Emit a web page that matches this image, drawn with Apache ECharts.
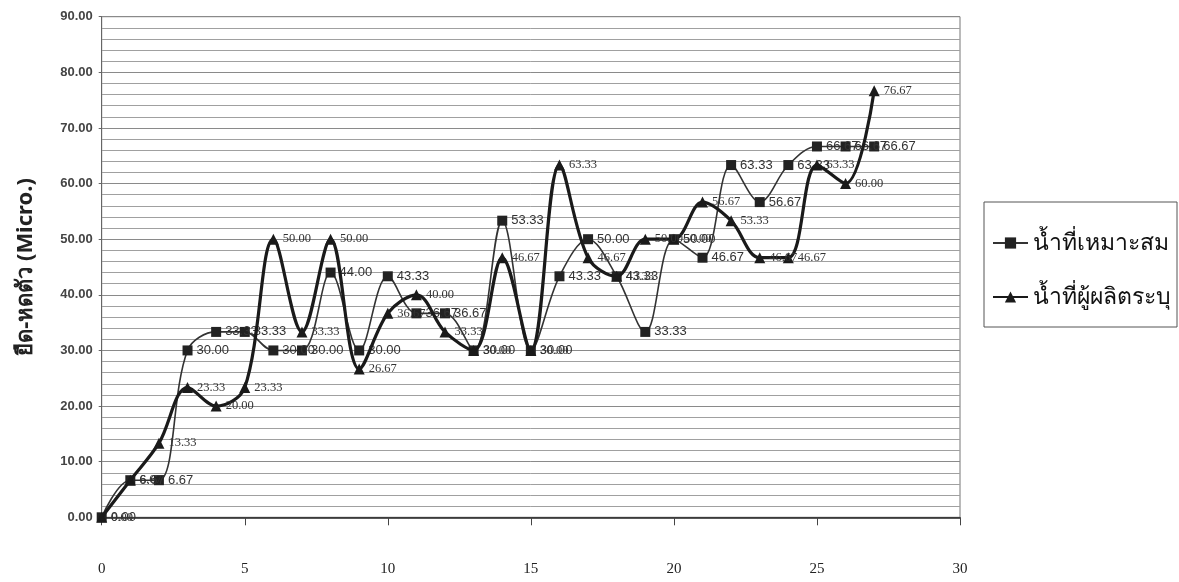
<!DOCTYPE html>
<html>
<head>
<meta charset="utf-8">
<script src="https://cdn.jsdelivr.net/npm/echarts@6/dist/echarts.min.js"></script>
<style>
html,body{margin:0;padding:0;background:#fff;}
#c{width:1179px;height:582px;}
</style>
</head>
<body>
<div id="c"></div>
<script>
const xValues = [0,1,2,3,4,5,6,7,8,9,10,11,12,13,14,15,16,17,18,19,20,21,22,23,24,25,26,27];
const seriesSuitable = [0,6.67,6.67,30,33.33,33.33,30,30,44,30,43.33,36.67,36.67,30,53.33,30,43.33,50,43.33,33.33,50,46.67,63.33,56.67,63.33,66.67,66.67,66.67];
const seriesMaker = [0,6.67,13.33,23.33,20,23.33,50,33.33,50,26.67,36.67,40,33.33,30,46.67,30,63.33,46.67,43.33,50,50,56.67,53.33,46.67,46.67,63.33,60,76.67];
const seriesNames = ['น้ำที่เหมาะสม','น้ำที่ผู้ผลิตระบุ'];
const yTitle = 'ยืด-หดตัว (Micro.)';

const pair = (ys) => xValues.map((x,i)=>[x, ys[i]]);
const chart = echarts.init(document.getElementById('c'), null, {renderer:'canvas'});
chart.setOption({
  backgroundColor:'#fff',
  animation:false,
  grid:{left:101.7, right:219, top:16.7, bottom:64.7, show:true, borderColor:'#777', borderWidth:1, backgroundColor:'transparent'},
  legend:{
    orient:'vertical', left:984, top:202,
    padding:[26,6,15,8], itemGap:24, itemWidth:35, itemHeight:14,
    borderColor:'#555', borderWidth:1,
    textStyle:{fontSize:23, lineHeight:30, color:'#111', fontFamily:'"Noto Sans", "DejaVu Sans", sans-serif'},
    data:seriesNames
  },
  xAxis:{
    type:'value', min:0, max:30, interval:5,
    axisLine:{show:true, onZero:false, lineStyle:{color:'#222', width:1.5}},
    axisTick:{show:true, length:8, lineStyle:{color:'#444'}},
    axisLabel:{margin:44, fontFamily:'"Liberation Serif", serif', fontSize:15, color:'#222'},
    splitLine:{show:false}
  },
  yAxis:{
    type:'value', min:0, max:90, interval:10,
    name:yTitle, nameLocation:'middle', nameGap:65, nameRotate:90,
    nameTextStyle:{fontSize:22, fontWeight:'bold', color:'#222', fontFamily:'"Noto Sans", "DejaVu Sans", sans-serif'},
    axisLine:{show:true, lineStyle:{color:'#666'}},
    axisTick:{show:true, length:3, lineStyle:{color:'#666'}},
    axisLabel:{formatter:(v)=>v.toFixed(2), fontFamily:'"Liberation Sans", Arial, sans-serif', fontWeight:'bold', fontSize:13, color:'#444', margin:9},
    splitLine:{show:true, lineStyle:{color:'#8a8a8a', width:1}},
    minorTick:{show:true, splitNumber:5, length:0},
    minorSplitLine:{show:true, lineStyle:{color:'#a0a0a0', width:1}}
  },
  series:[
    {
      name:seriesNames[0], type:'line', smooth:0.35, data:pair(seriesSuitable),
      symbol:'rect', symbolSize:10,
      lineStyle:{color:'#333', width:1.6},
      itemStyle:{color:'#222'},
      label:{show:true, position:'right', distance:4, formatter:(p)=>p.value[1].toFixed(2),
        fontFamily:'"Liberation Sans", Arial, sans-serif', fontSize:13, color:'#333'},
      z:3
    },
    {
      name:seriesNames[1], type:'line', smooth:0.35, data:pair(seriesMaker),
      symbol:'triangle', symbolSize:11,
      lineStyle:{color:'#1a1a1a', width:3.2},
      itemStyle:{color:'#1a1a1a'},
      label:{show:true, position:'right', distance:4, formatter:(p)=>p.value[1].toFixed(2),
        fontFamily:'"Liberation Serif", serif', fontSize:12.5, color:'#333'},
      z:4
    }
  ]
});
</script>
</body>
</html>
